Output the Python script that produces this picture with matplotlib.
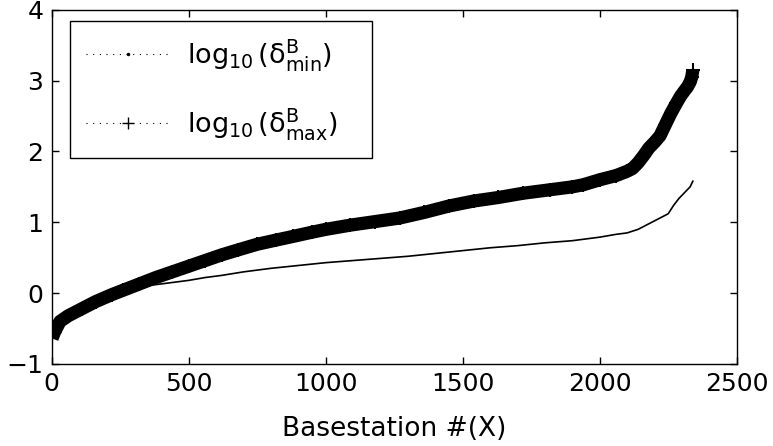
import matplotlib
matplotlib.use('Agg')
import matplotlib.pyplot as plt
from matplotlib.lines import Line2D

plt.rcParams['font.family'] = ['DejaVu Sans']
plt.rcParams['mathtext.default'] = 'regular'

# sorted per-basestation values, sampled along the station index
bs_max = [1, 10, 30, 60, 110, 160, 220, 260, 320, 380, 440, 500, 560, 620,
          680, 750, 820, 880, 950, 1000, 1090, 1180, 1270, 1360, 1450, 1540,
          1630, 1720, 1820, 1900, 1940, 2000, 2060, 2100, 2120, 2140, 2160,
          2180, 2200, 2220, 2240, 2260, 2280, 2295, 2310, 2320, 2330, 2336,
          2340]
log_dmax = [-0.64, -0.55, -0.40, -0.32, -0.22, -0.12, -0.02, 0.04, 0.13,
            0.22, 0.30, 0.38, 0.46, 0.54, 0.61, 0.69, 0.75, 0.80, 0.86, 0.90,
            0.96, 1.01, 1.06, 1.14, 1.23, 1.30, 1.35, 1.41, 1.46, 1.50, 1.53,
            1.60, 1.66, 1.72, 1.76, 1.84, 1.94, 2.05, 2.13, 2.22, 2.38, 2.54,
            2.68, 2.78, 2.86, 2.91, 2.98, 3.05, 3.15]

bs_min = [1, 30, 110, 220, 300, 360, 440, 500, 560, 620, 700, 800, 900, 1000,
          1100, 1200, 1300, 1400, 1500, 1600, 1700, 1800, 1900, 2000, 2060,
          2100, 2140, 2180, 2220, 2250, 2270, 2290, 2305, 2320, 2330, 2340]
log_dmin = [-0.62, -0.44, -0.26, -0.06, 0.05, 0.11, 0.15, 0.18, 0.22, 0.25,
            0.30, 0.35, 0.39, 0.43, 0.46, 0.49, 0.52, 0.56, 0.60, 0.64, 0.67,
            0.71, 0.74, 0.79, 0.83, 0.85, 0.90, 0.98, 1.06, 1.12, 1.24, 1.34,
            1.40, 1.46, 1.50, 1.58]

fig = plt.figure(figsize=(7.73, 4.46), dpi=100)
ax = fig.add_axes([0.067, 0.184, 0.886, 0.794])

# max: dense '+' markers form a solid band
ax.plot(bs_max, log_dmax, color='k', lw=9.5, solid_capstyle='butt')
ax.plot(bs_max, log_dmax, color='k', lw=0, marker='+', ms=10, mew=1.5)
# min: thin series, dense enough to read as a line
ax.plot(bs_min, log_dmin, color='k', lw=1.2)

ax.set_xlim(0, 2500)
ax.set_ylim(-1, 4)
ax.set_xticks([0, 500, 1000, 1500, 2000, 2500])
ax.set_yticks([-1, 0, 1, 2, 3, 4])
ax.tick_params(direction='in', length=5, width=1, labelsize=18,
               top=True, right=True, pad=6)
for sp in ax.spines.values():
    sp.set_linewidth(1)
ax.set_xlabel('Basestation #(X)', fontsize=19, labelpad=14)

handles = [
    Line2D([], [], color='k', linestyle=(0, (1, 5)), lw=0.8,
           marker='.', ms=3),
    Line2D([], [], color='k', linestyle=(0, (1, 5)), lw=0.8,
           marker='+', ms=8, mew=1),
]
labels = [r'$\log_{10}(\delta^B_{min})$', r'$\log_{10}(\delta^B_{max})$']
leg = ax.legend(handles, labels, loc='upper left', mode='expand',
                bbox_to_anchor=(0.026, 0.5, 0.441, 0.469), borderaxespad=0,
                fontsize=19.5, numpoints=1, handlelength=3.1,
                handletextpad=0.65, borderpad=0.6, labelspacing=1.2,
                fancybox=False, framealpha=1, edgecolor='k')
leg.get_frame().set_linewidth(1)

fig.savefig('out.png', dpi=100)
